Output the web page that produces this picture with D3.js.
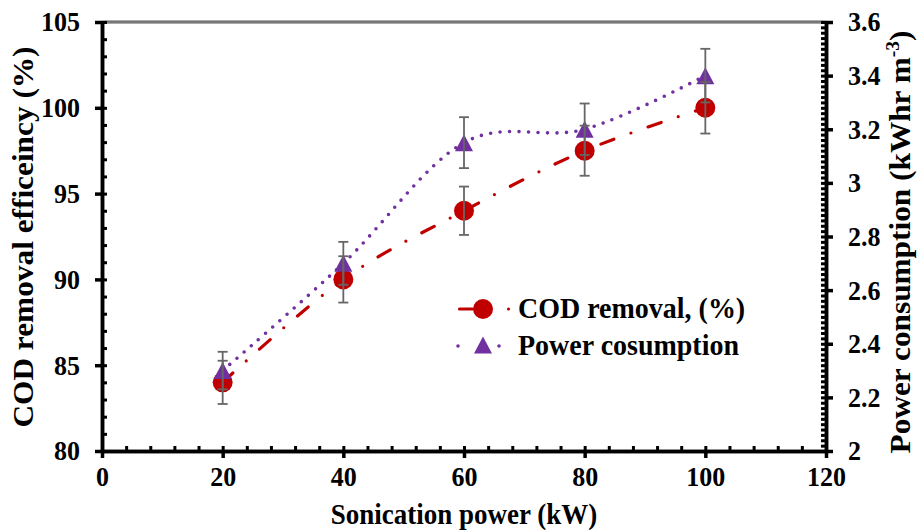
<!DOCTYPE html>
<html>
<head>
<meta charset="utf-8">
<script src="https://cdn.jsdelivr.net/npm/d3@7"></script>
<style>
  body { margin: 0; background: #fff; }
  text { font-family: "Liberation Serif", "Times New Roman", serif; font-weight: bold; fill: #000; }
  .axis path, .axis line { stroke: #000; }
</style>
</head>
<body>
<div id="chart-area"></div>
<script>

// data
let sonicPower = [20, 40, 60, 80, 100];
let codRemoval = [84, 90, 94, 97.5, 100];
let codError = [1.26, 1.35, 1.41, 1.46, 1.5];
let powerUse = [2.3, 2.7, 3.15, 3.2, 3.4];
let powerError = [0.07, 0.08, 0.095, 0.096, 0.1];

let xTicks = [0, 20, 40, 60, 80, 100, 120];
let leftTicks = [80, 85, 90, 95, 100, 105];
let rightTicks = [2, 2.2, 2.4, 2.6, 2.8, 3, 3.2, 3.4, 3.6];

let width = 919, height = 532;
let plot = {left: 102, right: 826, top: 22, bottom: 451};

let svg = d3.select("#chart-area").append("svg")
	.attr("width", width)
	.attr("height", height);

let x = d3.scaleLinear().domain([0, 120]).range([plot.left, plot.right]);
let yL = d3.scaleLinear().domain([80, 105]).range([plot.bottom, plot.top]);
let yR = d3.scaleLinear().domain([2, 3.6]).range([plot.bottom, plot.top]);

// the text in the picture is a bit taller than it is wide
let stretch = 1.08;
let tickFont = 26;
let titleFont = 29;
let legendFont = 28;

// top border of plot area
svg.append("line")
	.attr("x1", plot.left).attr("x2", plot.right)
	.attr("y1", plot.top).attr("y2", plot.top)
	.attr("stroke", "#555").attr("stroke-width", 3);
svg.append("line")
	.attr("x1", plot.left).attr("x2", plot.right)
	.attr("y1", plot.top).attr("y2", plot.top)
	.attr("stroke", "#aaa").attr("stroke-width", 0.8);

// lines
let codRows = sonicPower.map((d, i) => ({x: d, y: codRemoval[i], e: codError[i]}));
let powRows = sonicPower.map((d, i) => ({x: d, y: powerUse[i], e: powerError[i]}));

let smooth = d3.curveCardinal.tension(0);

let codLine = d3.line().x(d => x(d.x)).y(d => yL(d.y)).curve(smooth);
let powLine = d3.line().x(d => x(d.x)).y(d => yR(d.y)).curve(smooth);

svg.append("path")
	.attr("d", codLine(codRows))
	.attr("fill", "none")
	.attr("stroke", "#C00000")
	.attr("stroke-width", 3.2)
	.attr("stroke-linecap", "round")
	.attr("stroke-dasharray", "14 18 0 18");

svg.append("path")
	.attr("d", powLine(powRows))
	.attr("fill", "none")
	.attr("stroke", "#7030A0")
	.attr("stroke-width", 3.6)
	.attr("stroke-linecap", "round")
	.attr("stroke-dasharray", "0 9.5");

// markers
let triangle = "M0,-8.5L9,8.5L-9,8.5Z";

svg.selectAll(".cod-dot")
	.data(codRows)
	.enter().append("circle")
	.attr("class", "cod-dot")
	.attr("cx", d => x(d.x))
	.attr("cy", d => yL(d.y))
	.attr("r", 10)
	.attr("fill", "#C00000");

svg.selectAll(".pow-dot")
	.data(powRows)
	.enter().append("path")
	.attr("class", "pow-dot")
	.attr("d", triangle)
	.attr("transform", d => "translate(" + x(d.x) + "," + yR(d.y) + ")")
	.attr("fill", "#7030A0");

// error bars on top
function errorBars(rows, yScale, cls) {
	let g = svg.selectAll("." + cls)
		.data(rows)
		.enter().append("g")
		.attr("class", cls)
		.attr("stroke", "#666")
		.attr("stroke-width", 1.8);
	g.append("line")
		.attr("x1", d => x(d.x)).attr("x2", d => x(d.x))
		.attr("y1", d => yScale(d.y - d.e)).attr("y2", d => yScale(d.y + d.e));
	g.append("line")
		.attr("x1", d => x(d.x) - 5).attr("x2", d => x(d.x) + 5)
		.attr("y1", d => yScale(d.y + d.e)).attr("y2", d => yScale(d.y + d.e));
	g.append("line")
		.attr("x1", d => x(d.x) - 5).attr("x2", d => x(d.x) + 5)
		.attr("y1", d => yScale(d.y - d.e)).attr("y2", d => yScale(d.y - d.e));
}
errorBars(codRows, yL, "cod-err");
errorBars(powRows, yR, "pow-err");

// axes: inner ticks (minor + major) then outer major ticks with labels
function styleAxis(g, lineWidth) {
	g.attr("class", "axis");
	g.select(".domain").attr("stroke-width", 3.5);
	g.selectAll(".tick line").attr("stroke-width", lineWidth);
	g.selectAll("text")
		.attr("font-size", tickFont)
		.attr("font-family", null)
		.attr("transform", "scale(1," + stretch + ")");
}

// bottom
svg.append("g")
	.attr("transform", "translate(0," + plot.bottom + ")")
	.call(d3.axisBottom(x).tickValues(d3.range(0, 121, 4)).tickSize(-5).tickSizeOuter(0).tickFormat(""))
	.call(g => styleAxis(g, 3));
svg.append("g")
	.attr("transform", "translate(0," + plot.bottom + ")")
	.call(d3.axisBottom(x).tickValues(xTicks).tickSize(7).tickSizeOuter(0).tickPadding(7))
	.call(g => styleAxis(g, 3.5));

// left
svg.append("g")
	.attr("transform", "translate(" + plot.left + ",0)")
	.call(d3.axisLeft(yL).tickValues(d3.range(80, 105.5, 1)).tickSize(-5).tickSizeOuter(0).tickFormat(""))
	.call(g => styleAxis(g, 3));
svg.append("g")
	.attr("transform", "translate(" + plot.left + ",0)")
	.call(d3.axisLeft(yL).tickValues(leftTicks).tickSize(7).tickSizeOuter(0).tickPadding(15))
	.call(g => styleAxis(g, 3.5));

// right
svg.append("g")
	.attr("transform", "translate(" + plot.right + ",0)")
	.call(d3.axisRight(yR).tickValues(d3.range(0, 81).map(i => 2 + i * 0.02)).tickSize(-5).tickSizeOuter(0).tickFormat(""))
	.call(g => styleAxis(g, 3));
svg.append("g")
	.attr("transform", "translate(" + plot.right + ",0)")
	.call(d3.axisRight(yR).tickValues(rightTicks).tickSize(7).tickSizeOuter(0).tickPadding(15).tickFormat(d3.format("~g")))
	.call(g => styleAxis(g, 3.5));

// axis titles
svg.append("text")
	.attr("transform", "translate(" + (plot.left + plot.right) / 2 + ",524) scale(1," + stretch + ")")
	.attr("text-anchor", "middle")
	.attr("font-size", 27)
	.text("Sonication power (kW)");

svg.append("text")
	.attr("transform", "translate(33,237) rotate(-90) scale(" + stretch + ",1)")
	.attr("text-anchor", "middle")
	.attr("font-size", titleFont)
	.text("COD removal efficeincy (%)");

let rTitle = svg.append("text")
	.attr("transform", "translate(910,242) rotate(-90) scale(" + stretch + ",1)")
	.attr("text-anchor", "middle")
	.attr("font-size", titleFont);
rTitle.append("tspan").text("Power consumption (kWhr m");
rTitle.append("tspan").attr("dy", -11).attr("font-size", 18).text("-3");
rTitle.append("tspan").attr("dy", 11).text(")");

// legend
let legend = svg.append("g");

legend.append("line")
	.attr("x1", 459.5).attr("x2", 510).attr("y1", 309).attr("y2", 309)
	.attr("stroke", "#C00000").attr("stroke-width", 3.2)
	.attr("stroke-linecap", "round")
	.attr("stroke-dasharray", "13 36 0 100");
legend.append("circle")
	.attr("cx", 483).attr("cy", 309).attr("r", 10)
	.attr("fill", "#C00000");
legend.append("text")
	.attr("transform", "translate(518,318) scale(1," + stretch + ")")
	.attr("font-size", legendFont)
	.text("COD removal, (%)");

[[458, 467], [499, 508]].forEach(seg => {
	legend.append("line")
		.attr("x1", seg[0]).attr("x2", seg[1]).attr("y1", 346).attr("y2", 346)
		.attr("stroke", "#7030A0").attr("stroke-width", 3.6)
		.attr("stroke-linecap", "round")
		.attr("stroke-dasharray", "0 9");
});
legend.append("path")
	.attr("d", triangle)
	.attr("transform", "translate(483,345)")
	.attr("fill", "#7030A0");
legend.append("text")
	.attr("transform", "translate(518,355) scale(1," + stretch + ")")
	.attr("font-size", legendFont)
	.text("Power cosumption");

</script>
</body>
</html>
